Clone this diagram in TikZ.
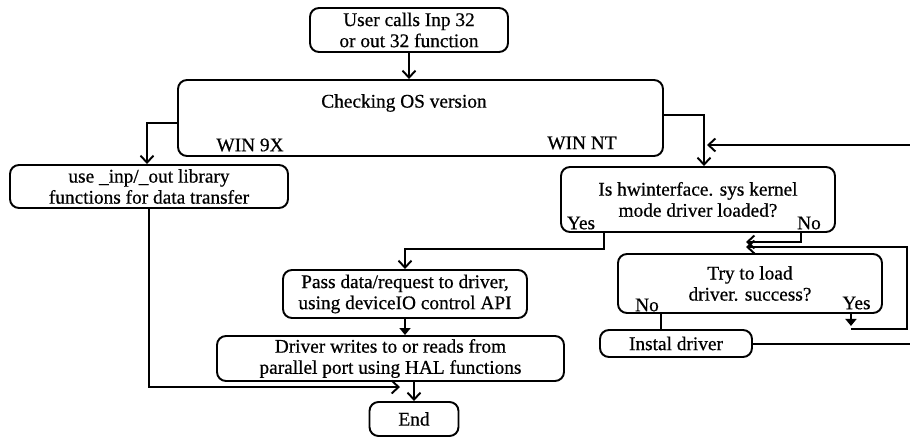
\documentclass[tikz,border=0pt]{standalone}
\usepackage{fontspec}
\setmainfont{Liberation Serif}[FakeBold=0.6]
\usetikzlibrary{arrows.meta}

\tikzset{
	block/.style={draw, line width=1.1pt, rounded corners=0.18cm, align=center, inner sep=0pt, font=\fontsize{11}{12}\selectfont},
	tag/.style={inner sep=0pt, font=\fontsize{11}{12}\selectfont},
	wire/.style={line width=1.2pt},
	flow/.style={line width=1.1pt, -{Straight Barb[length=1.4mm,width=2.6mm]}},
	flowtri/.style={line width=1.1pt, -{Triangle[length=1.4mm,width=2.2mm]}}
}

\begin{document}
\begin{tikzpicture}

	\useasboundingbox (0,0) rectangle (18.2,-8.76);

	% The Boxes
	\node[block, minimum width=3.96cm, minimum height=0.88cm] (start) at (8.18,-0.60) {User calls Inp 32\\or out 32 function};
	\node[block, minimum width=9.70cm, minimum height=1.52cm] (check) at (8.41,-2.36) {};
	\node[block, minimum width=5.56cm, minimum height=0.86cm] (lib) at (2.98,-3.73) {use \_inp/\_out library\\functions for data transfer};
	\node[block, minimum width=5.48cm, minimum height=1.30cm] (hwi) at (13.96,-3.99) {Is hwinterface. sys kernel\\mode driver loaded?};
	\node[block, minimum width=4.88cm, minimum height=0.96cm] (pass) at (8.10,-5.88) {Pass data/request to driver,\\using deviceIO control API};
	\node[block, minimum width=6.94cm, minimum height=0.90cm] (port) at (7.81,-7.17) {Driver writes to or reads from\\parallel port using HAL functions};
	\node[block, minimum width=1.78cm, minimum height=0.68cm] (end) at (8.28,-8.38) {End};
	\node[block, minimum width=5.28cm, minimum height=1.18cm] (try) at (15.00,-5.67) {Try to load\\driver. success?};
	\node[block, minimum width=3.04cm, minimum height=0.54cm] (inst) at (13.52,-6.87) {Instal driver};

	% The Labels
	\node[tag] (checktext) at (8.08,-2.06) {Checking OS version};
	\node[tag] (win9x) at (5.00,-2.90) {WIN 9X};
	\node[tag] (winnt) at (11.64,-2.86) {WIN NT};
	\node[tag] (hwiyes) at (11.62,-4.46) {Yes};
	\node[tag] (hwino) at (16.18,-4.46) {No};
	\node[tag] (tryno) at (12.94,-6.10) {No};
	\node[tag] (tryyes) at (17.13,-6.06) {Yes};

	% Free ends
	\coordinate (rightedge) at (18.2,0);
	\coordinate (ntin) at (14.14,-2.90);
	\coordinate (noin) at (14.92,-4.84);
	\coordinate (loopin) at (14.92,-4.94);
	\coordinate (loopcorner) at (18.14,-4.94);
	\coordinate (tryleg) at ([xshift=0.88cm]try.south west);
	\coordinate (instout) at ([yshift=-0.01cm]inst.east);

	% Top part
	\draw[flow] (start.south) -- (start.south |- check.north);
	\draw[flow] ([yshift=-0.1cm]check.west) -| ([xshift=-0.04cm]lib.north);
	\draw[flow] ([yshift=0.06cm]check.east) -| ([xshift=0.12cm]hwi.north);
	\draw[flow] (ntin -| rightedge) -- (ntin);

	% WIN NT branch
	\draw[flow] ([xshift=0.88cm]hwi.south west) -- ++(0,-0.32) -| (pass.north);
	\draw[flow] ([xshift=-0.7cm]hwi.south east) |- (noin);
	\draw[flowtri] ([xshift=-0.64cm]try.south east) -- ++(0,-0.24);
	\draw[flow] ([xshift=-0.64cm,yshift=-0.30cm]try.south east) -| (loopcorner) -- (loopin);
	\draw[wire] (tryleg) -- (tryleg |- inst.north);
	\draw[wire] (instout) -- (instout -| rightedge);

	% To the end
	\draw[flowtri] (pass.south) -- (pass.south |- port.north);
	\draw[flow] (port.south -| end.north) -- (end.north);
	\draw[flow] (lib.south) |- ([xshift=-0.28cm,yshift=0.28cm]end.north);

\end{tikzpicture}
\end{document}
